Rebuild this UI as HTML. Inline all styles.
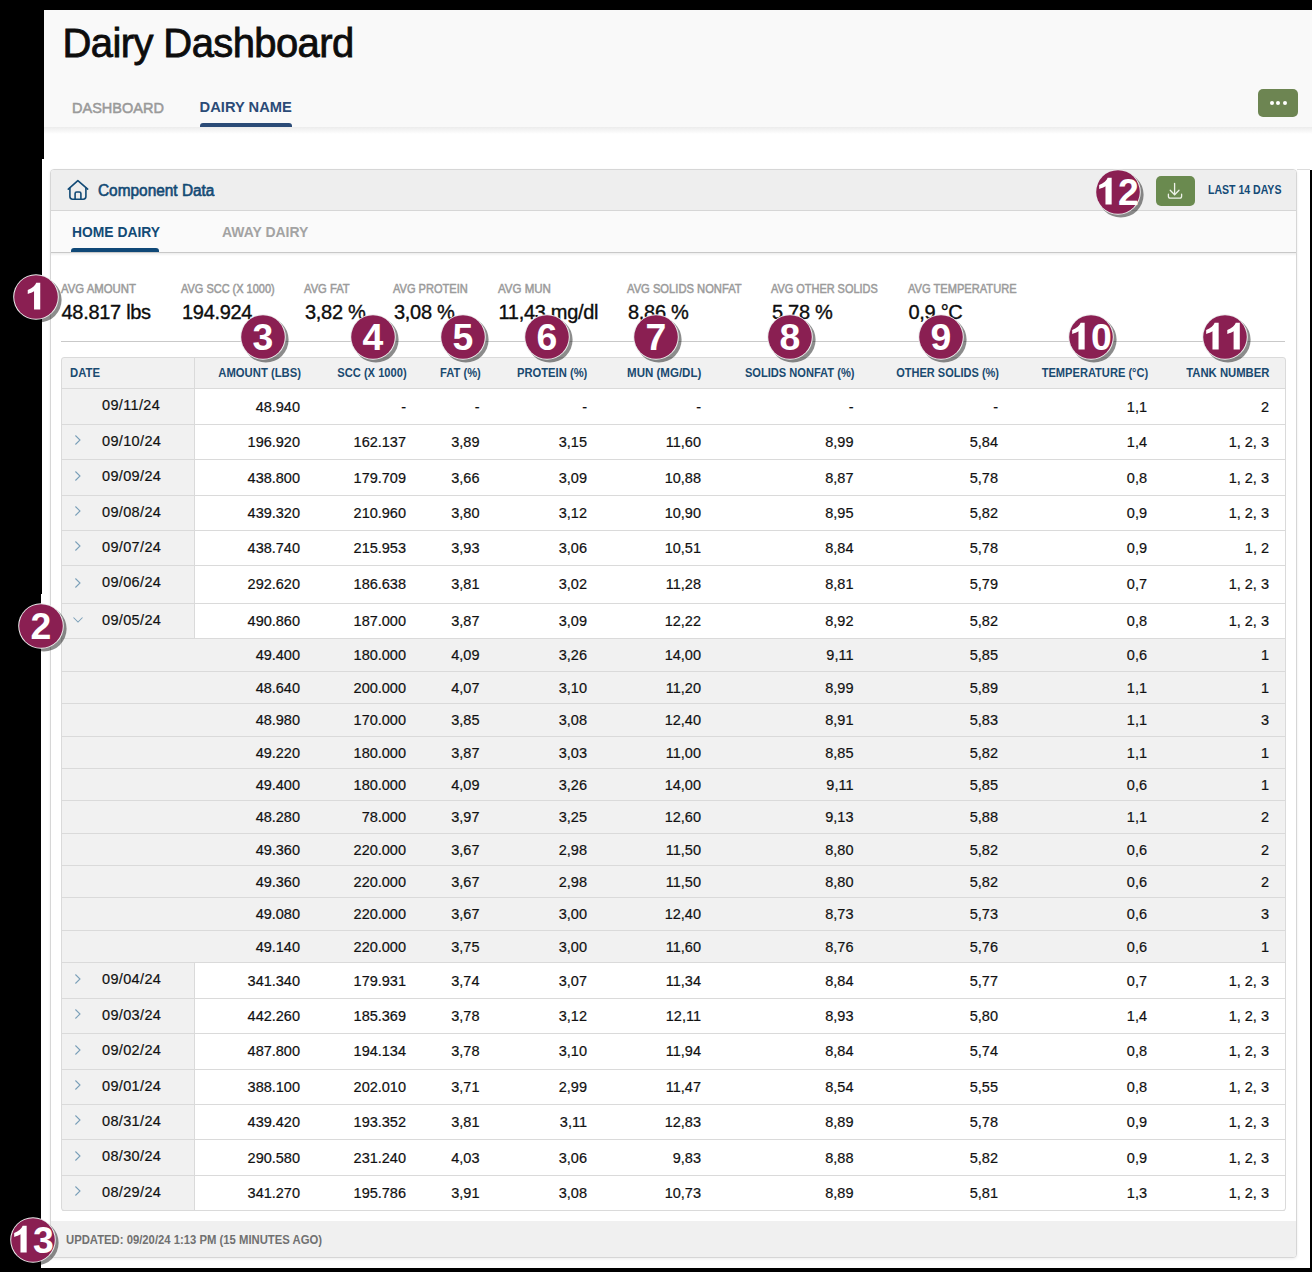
<!DOCTYPE html>
<html><head><meta charset="utf-8"><title>Dairy Dashboard</title>
<style>
html,body{margin:0;padding:0;}
body{width:1312px;height:1272px;background:#000;position:relative;overflow:hidden;font-family:"Liberation Sans", sans-serif;}
.r{position:absolute;}
.t{position:absolute;white-space:nowrap;font-family:"Liberation Sans", sans-serif;}
</style></head><body>
<div class="r" style="left:44px;top:10px;width:1268px;height:149px;background:#fff;"></div>
<div class="r" style="left:44px;top:10px;width:1268px;height:117px;background:#f9f9f9;"></div>
<div class="r" style="left:44px;top:127px;width:1268px;height:7px;background:linear-gradient(#ececec,#fff);"></div>
<div class="t" style="left:62.5px;top:22.94px;font-size:40px;line-height:40px;color:#0d0d0d;font-weight:400;letter-spacing:-0.6px;-webkit-text-stroke:0.8px #0d0d0d;">Dairy Dashboard</div>
<div class="t" style="left:72.3px;top:99.88px;font-size:15.5px;line-height:15.5px;color:#9a9a9a;font-weight:400;letter-spacing:0px;-webkit-text-stroke:0.55px #9a9a9a;transform:scaleX(0.937);transform-origin:left center;">DASHBOARD</div>
<div class="t" style="left:199.6px;top:100.36px;font-size:14.7px;line-height:14.7px;color:#2b4b77;font-weight:700;letter-spacing:0px;transform:scaleX(1.0);transform-origin:left center;">DAIRY NAME</div>
<div class="r" style="left:200px;top:123px;width:92px;height:4px;background:#2b4b77;border-radius:3px 3px 0 0;"></div>
<div class="r" style="left:1258px;top:89px;width:40px;height:28px;background:#6d8552;border-radius:5px;"></div>
<div class="r" style="left:1269.6px;top:101px;width:4px;height:4px;border-radius:50%;background:#fff;"></div>
<div class="r" style="left:1276.0px;top:101px;width:4px;height:4px;border-radius:50%;background:#fff;"></div>
<div class="r" style="left:1282.5px;top:101px;width:4px;height:4px;border-radius:50%;background:#fff;"></div>
<div class="r" style="left:42px;top:159px;width:1268px;height:1109px;background:#fff;"></div>
<div class="r" style="left:1310px;top:159px;width:2px;height:11px;background:#fff;"></div>
<div class="r" style="left:41px;top:594px;width:1px;height:674px;background:#fff;"></div>
<div class="r" style="left:1297px;top:169px;width:13px;height:1px;background:#dcdcdc;"></div>
<div class="r" style="left:50px;top:169px;width:1247px;height:1089px;background:#fff;border:1px solid #d6d6d6;border-radius:4px;box-sizing:border-box;box-shadow:0 1px 3px rgba(0,0,0,0.08);"></div>
<div class="r" style="left:51px;top:170px;width:1245px;height:40px;background:#eeeeee;border-radius:3px 3px 0 0;"></div>
<div class="r" style="left:51px;top:210px;width:1245px;height:1px;background:#d6d6d6;"></div>
<div class="r" style="left:51px;top:211px;width:1245px;height:41px;background:#fafafa;"></div>
<div class="r" style="left:51px;top:252px;width:1245px;height:1px;background:#c8c8c8;"></div>
<div class="r" style="left:51px;top:253px;width:1245px;height:3px;background:linear-gradient(rgba(0,0,0,0.07),rgba(0,0,0,0));"></div>
<svg class="r" style="left:62px;top:174px" width="32" height="32" viewBox="0 0 32 32" fill="none" stroke="#124a76" stroke-width="1.6" stroke-linejoin="round" stroke-linecap="round">
<path d="M6.3 15.1 L15.85 6.6 L25.7 15.1"/><path d="M7.9 14 V22.6 Q7.9 25.2 10.5 25.2 H21.3 Q23.9 25.2 23.9 22.6 V14"/><path d="M13.1 25.2 V19.6 Q13.1 18 14.7 18 H17.3 Q18.9 18 18.9 19.6 V25.2"/></svg>
<div class="t" style="left:97.8px;top:182.53px;font-size:15.8px;line-height:15.8px;color:#134a74;font-weight:400;letter-spacing:0px;-webkit-text-stroke:0.6px #134a74;transform:scaleX(0.975);transform-origin:left center;">Component Data</div>
<div class="r" style="left:1156px;top:176px;width:39px;height:30px;background:#6a8a4f;border-radius:5px;"></div>
<svg class="r" style="left:1166px;top:182px" width="18" height="18" viewBox="0 0 18 18" fill="none" stroke="#eef2ea" stroke-width="1.3" stroke-linecap="round" stroke-linejoin="round">
<path d="M8.6 1.4 V12.6"/><path d="M4.2 8.3 L8.6 12.7 L13 8.3"/><path d="M2.4 12.2 V14.3 Q2.4 16.2 4.3 16.2 H13.7 Q15.6 16.2 15.6 14.3 V12.2"/></svg>
<div class="t" style="left:1207.8px;top:183.67px;font-size:12.2px;line-height:12.2px;color:#134a76;font-weight:700;letter-spacing:0px;transform:scaleX(0.865);transform-origin:left center;">LAST 14 DAYS</div>
<div class="t" style="left:71.5px;top:223.86px;font-size:15.4px;line-height:15.4px;color:#124a76;font-weight:700;letter-spacing:0px;transform:scaleX(0.9);transform-origin:left center;">HOME DAIRY</div>
<div class="r" style="left:71px;top:248px;width:88px;height:4px;background:#0f4877;border-radius:3px 3px 0 0;"></div>
<div class="t" style="left:222.4px;top:223.86px;font-size:15.4px;line-height:15.4px;color:#a3a3a3;font-weight:700;letter-spacing:0px;transform:scaleX(0.907);transform-origin:left center;">AWAY DAIRY</div>
<div class="t" style="left:60.9px;top:282.77px;font-size:12.2px;line-height:12.2px;color:#9b9b9b;font-weight:400;letter-spacing:0px;-webkit-text-stroke:0.5px #9b9b9b;transform:scaleX(0.933);transform-origin:left center;">AVG AMOUNT</div>
<div class="t" style="left:61.5px;top:301.77px;font-size:20px;line-height:20px;color:#0d0d0d;font-weight:400;letter-spacing:-0.3px;-webkit-text-stroke:0.35px #0d0d0d;">48.817 lbs</div>
<div class="t" style="left:181.4px;top:282.77px;font-size:12.2px;line-height:12.2px;color:#9b9b9b;font-weight:400;letter-spacing:0px;-webkit-text-stroke:0.5px #9b9b9b;transform:scaleX(0.9);transform-origin:left center;">AVG SCC (X 1000)</div>
<div class="t" style="left:182px;top:301.77px;font-size:20px;line-height:20px;color:#0d0d0d;font-weight:400;letter-spacing:-0.3px;-webkit-text-stroke:0.35px #0d0d0d;">194.924</div>
<div class="t" style="left:304.4px;top:282.77px;font-size:12.2px;line-height:12.2px;color:#9b9b9b;font-weight:400;letter-spacing:0px;-webkit-text-stroke:0.5px #9b9b9b;transform:scaleX(0.92);transform-origin:left center;">AVG FAT</div>
<div class="t" style="left:305px;top:301.77px;font-size:20px;line-height:20px;color:#0d0d0d;font-weight:400;letter-spacing:-0.3px;-webkit-text-stroke:0.35px #0d0d0d;">3,82 %</div>
<div class="t" style="left:393.4px;top:282.77px;font-size:12.2px;line-height:12.2px;color:#9b9b9b;font-weight:400;letter-spacing:0px;-webkit-text-stroke:0.5px #9b9b9b;transform:scaleX(0.908);transform-origin:left center;">AVG PROTEIN</div>
<div class="t" style="left:394px;top:301.77px;font-size:20px;line-height:20px;color:#0d0d0d;font-weight:400;letter-spacing:-0.3px;-webkit-text-stroke:0.35px #0d0d0d;">3,08 %</div>
<div class="t" style="left:497.9px;top:282.77px;font-size:12.2px;line-height:12.2px;color:#9b9b9b;font-weight:400;letter-spacing:0px;-webkit-text-stroke:0.5px #9b9b9b;transform:scaleX(0.946);transform-origin:left center;">AVG MUN</div>
<div class="t" style="left:498.5px;top:301.77px;font-size:20px;line-height:20px;color:#0d0d0d;font-weight:400;letter-spacing:-0.3px;-webkit-text-stroke:0.35px #0d0d0d;">11,43 mg/dl</div>
<div class="t" style="left:627.4px;top:282.77px;font-size:12.2px;line-height:12.2px;color:#9b9b9b;font-weight:400;letter-spacing:0px;-webkit-text-stroke:0.5px #9b9b9b;transform:scaleX(0.918);transform-origin:left center;">AVG SOLIDS NONFAT</div>
<div class="t" style="left:628px;top:301.77px;font-size:20px;line-height:20px;color:#0d0d0d;font-weight:400;letter-spacing:-0.3px;-webkit-text-stroke:0.35px #0d0d0d;">8,86 %</div>
<div class="t" style="left:771.4px;top:282.77px;font-size:12.2px;line-height:12.2px;color:#9b9b9b;font-weight:400;letter-spacing:0px;-webkit-text-stroke:0.5px #9b9b9b;transform:scaleX(0.897);transform-origin:left center;">AVG OTHER SOLIDS</div>
<div class="t" style="left:772px;top:301.77px;font-size:20px;line-height:20px;color:#0d0d0d;font-weight:400;letter-spacing:-0.3px;-webkit-text-stroke:0.35px #0d0d0d;">5,78 %</div>
<div class="t" style="left:907.9px;top:282.77px;font-size:12.2px;line-height:12.2px;color:#9b9b9b;font-weight:400;letter-spacing:0px;-webkit-text-stroke:0.5px #9b9b9b;transform:scaleX(0.911);transform-origin:left center;">AVG TEMPERATURE</div>
<div class="t" style="left:908.5px;top:301.77px;font-size:20px;line-height:20px;color:#0d0d0d;font-weight:400;letter-spacing:-0.3px;-webkit-text-stroke:0.35px #0d0d0d;">0,9 °C</div>
<div class="r" style="left:61px;top:341px;width:1224px;height:1px;background:#c9c9c9;"></div>
<div style="position:absolute;left:0;top:0;width:1312px;height:1272px;clip-path:inset(357px 26px 61px 61px round 3px);">
<div class="r" style="left:62px;top:358px;width:1223px;height:30px;background:#f1f1f1;"></div>
<div class="r" style="left:62px;top:388px;width:1223px;height:1px;background:#dadada;"></div>
<div class="t" style="left:70px;top:367.14px;font-size:12px;line-height:12px;color:#1a4a70;font-weight:700;letter-spacing:0px;transform:scaleX(0.943);transform-origin:left center;">DATE</div>
<div class="t" style="right:1011.2px;top:367.14px;font-size:12px;line-height:12px;color:#1a4a70;font-weight:700;letter-spacing:0px;transform:scaleX(0.94);transform-origin:right center;">AMOUNT (LBS)</div>
<div class="t" style="right:905.2px;top:367.14px;font-size:12px;line-height:12px;color:#1a4a70;font-weight:700;letter-spacing:0px;transform:scaleX(0.93);transform-origin:right center;">SCC (X 1000)</div>
<div class="t" style="right:831.7px;top:367.14px;font-size:12px;line-height:12px;color:#1a4a70;font-weight:700;letter-spacing:0px;transform:scaleX(0.93);transform-origin:right center;">FAT (%)</div>
<div class="t" style="right:724.2px;top:367.14px;font-size:12px;line-height:12px;color:#1a4a70;font-weight:700;letter-spacing:0px;transform:scaleX(0.934);transform-origin:right center;">PROTEIN (%)</div>
<div class="t" style="right:610.2px;top:367.14px;font-size:12px;line-height:12px;color:#1a4a70;font-weight:700;letter-spacing:0px;transform:scaleX(0.96);transform-origin:right center;">MUN (MG/DL)</div>
<div class="t" style="right:457.70000000000005px;top:367.14px;font-size:12px;line-height:12px;color:#1a4a70;font-weight:700;letter-spacing:0px;transform:scaleX(0.925);transform-origin:right center;">SOLIDS NONFAT (%)</div>
<div class="t" style="right:313.20000000000005px;top:367.14px;font-size:12px;line-height:12px;color:#1a4a70;font-weight:700;letter-spacing:0px;transform:scaleX(0.917);transform-origin:right center;">OTHER SOLIDS (%)</div>
<div class="t" style="right:164.20000000000005px;top:367.14px;font-size:12px;line-height:12px;color:#1a4a70;font-weight:700;letter-spacing:0px;transform:scaleX(0.925);transform-origin:right center;">TEMPERATURE (°C)</div>
<div class="t" style="right:42.200000000000045px;top:367.14px;font-size:12px;line-height:12px;color:#1a4a70;font-weight:700;letter-spacing:0px;transform:scaleX(0.941);transform-origin:right center;">TANK NUMBER</div>
<div class="r" style="left:194px;top:358px;width:1px;height:30px;background:#dadada;"></div>
<div class="r" style="left:62px;top:389px;width:132px;height:35px;background:#f1f1f1;"></div>
<div class="r" style="left:194px;top:389px;width:1px;height:35px;background:#dadada;"></div>
<div class="r" style="left:62px;top:424px;width:1223px;height:1px;background:#dadada;"></div>
<div class="t" style="left:102px;top:397.73px;font-size:14.5px;line-height:14.5px;color:#111;font-weight:400;letter-spacing:0.35px;-webkit-text-stroke:0.2px #111;">09/11/24</div>
<div class="t" style="right:1012px;top:399.73px;font-size:14.5px;line-height:14.5px;color:#111;font-weight:400;letter-spacing:0px;-webkit-text-stroke:0.2px #111;">48.940</div>
<div class="t" style="right:906px;top:399.73px;font-size:14.5px;line-height:14.5px;color:#111;font-weight:400;letter-spacing:0px;-webkit-text-stroke:0.2px #111;">-</div>
<div class="t" style="right:832.5px;top:399.73px;font-size:14.5px;line-height:14.5px;color:#111;font-weight:400;letter-spacing:0px;-webkit-text-stroke:0.2px #111;">-</div>
<div class="t" style="right:725px;top:399.73px;font-size:14.5px;line-height:14.5px;color:#111;font-weight:400;letter-spacing:0px;-webkit-text-stroke:0.2px #111;">-</div>
<div class="t" style="right:611px;top:399.73px;font-size:14.5px;line-height:14.5px;color:#111;font-weight:400;letter-spacing:0px;-webkit-text-stroke:0.2px #111;">-</div>
<div class="t" style="right:458.5px;top:399.73px;font-size:14.5px;line-height:14.5px;color:#111;font-weight:400;letter-spacing:0px;-webkit-text-stroke:0.2px #111;">-</div>
<div class="t" style="right:314px;top:399.73px;font-size:14.5px;line-height:14.5px;color:#111;font-weight:400;letter-spacing:0px;-webkit-text-stroke:0.2px #111;">-</div>
<div class="t" style="right:165px;top:399.73px;font-size:14.5px;line-height:14.5px;color:#111;font-weight:400;letter-spacing:0px;-webkit-text-stroke:0.2px #111;">1,1</div>
<div class="t" style="right:43px;top:399.73px;font-size:14.5px;line-height:14.5px;color:#111;font-weight:400;letter-spacing:0px;-webkit-text-stroke:0.2px #111;">2</div>
<div class="r" style="left:62px;top:425px;width:132px;height:34px;background:#f1f1f1;"></div>
<div class="r" style="left:194px;top:425px;width:1px;height:34px;background:#dadada;"></div>
<div class="r" style="left:62px;top:459px;width:1223px;height:1px;background:#dadada;"></div>
<svg class="r" style="left:73px;top:433.2px" width="10" height="14" viewBox="0 0 10 14" fill="none" stroke="#7a9fb8" stroke-width="1.05"><path d="M2.4 2.5 L7 7 L2.4 11.5"/></svg>
<div class="t" style="left:102px;top:433.73px;font-size:14.5px;line-height:14.5px;color:#111;font-weight:400;letter-spacing:0.35px;-webkit-text-stroke:0.2px #111;">09/10/24</div>
<div class="t" style="right:1012px;top:434.73px;font-size:14.5px;line-height:14.5px;color:#111;font-weight:400;letter-spacing:0px;-webkit-text-stroke:0.2px #111;">196.920</div>
<div class="t" style="right:906px;top:434.73px;font-size:14.5px;line-height:14.5px;color:#111;font-weight:400;letter-spacing:0px;-webkit-text-stroke:0.2px #111;">162.137</div>
<div class="t" style="right:832.5px;top:434.73px;font-size:14.5px;line-height:14.5px;color:#111;font-weight:400;letter-spacing:0px;-webkit-text-stroke:0.2px #111;">3,89</div>
<div class="t" style="right:725px;top:434.73px;font-size:14.5px;line-height:14.5px;color:#111;font-weight:400;letter-spacing:0px;-webkit-text-stroke:0.2px #111;">3,15</div>
<div class="t" style="right:611px;top:434.73px;font-size:14.5px;line-height:14.5px;color:#111;font-weight:400;letter-spacing:0px;-webkit-text-stroke:0.2px #111;">11,60</div>
<div class="t" style="right:458.5px;top:434.73px;font-size:14.5px;line-height:14.5px;color:#111;font-weight:400;letter-spacing:0px;-webkit-text-stroke:0.2px #111;">8,99</div>
<div class="t" style="right:314px;top:434.73px;font-size:14.5px;line-height:14.5px;color:#111;font-weight:400;letter-spacing:0px;-webkit-text-stroke:0.2px #111;">5,84</div>
<div class="t" style="right:165px;top:434.73px;font-size:14.5px;line-height:14.5px;color:#111;font-weight:400;letter-spacing:0px;-webkit-text-stroke:0.2px #111;">1,4</div>
<div class="t" style="right:43px;top:434.73px;font-size:14.5px;line-height:14.5px;color:#111;font-weight:400;letter-spacing:0px;-webkit-text-stroke:0.2px #111;">1, 2, 3</div>
<div class="r" style="left:62px;top:460px;width:132px;height:35px;background:#f1f1f1;"></div>
<div class="r" style="left:194px;top:460px;width:1px;height:35px;background:#dadada;"></div>
<div class="r" style="left:62px;top:495px;width:1223px;height:1px;background:#dadada;"></div>
<svg class="r" style="left:73px;top:468.7px" width="10" height="14" viewBox="0 0 10 14" fill="none" stroke="#7a9fb8" stroke-width="1.05"><path d="M2.4 2.5 L7 7 L2.4 11.5"/></svg>
<div class="t" style="left:102px;top:468.73px;font-size:14.5px;line-height:14.5px;color:#111;font-weight:400;letter-spacing:0.35px;-webkit-text-stroke:0.2px #111;">09/09/24</div>
<div class="t" style="right:1012px;top:470.73px;font-size:14.5px;line-height:14.5px;color:#111;font-weight:400;letter-spacing:0px;-webkit-text-stroke:0.2px #111;">438.800</div>
<div class="t" style="right:906px;top:470.73px;font-size:14.5px;line-height:14.5px;color:#111;font-weight:400;letter-spacing:0px;-webkit-text-stroke:0.2px #111;">179.709</div>
<div class="t" style="right:832.5px;top:470.73px;font-size:14.5px;line-height:14.5px;color:#111;font-weight:400;letter-spacing:0px;-webkit-text-stroke:0.2px #111;">3,66</div>
<div class="t" style="right:725px;top:470.73px;font-size:14.5px;line-height:14.5px;color:#111;font-weight:400;letter-spacing:0px;-webkit-text-stroke:0.2px #111;">3,09</div>
<div class="t" style="right:611px;top:470.73px;font-size:14.5px;line-height:14.5px;color:#111;font-weight:400;letter-spacing:0px;-webkit-text-stroke:0.2px #111;">10,88</div>
<div class="t" style="right:458.5px;top:470.73px;font-size:14.5px;line-height:14.5px;color:#111;font-weight:400;letter-spacing:0px;-webkit-text-stroke:0.2px #111;">8,87</div>
<div class="t" style="right:314px;top:470.73px;font-size:14.5px;line-height:14.5px;color:#111;font-weight:400;letter-spacing:0px;-webkit-text-stroke:0.2px #111;">5,78</div>
<div class="t" style="right:165px;top:470.73px;font-size:14.5px;line-height:14.5px;color:#111;font-weight:400;letter-spacing:0px;-webkit-text-stroke:0.2px #111;">0,8</div>
<div class="t" style="right:43px;top:470.73px;font-size:14.5px;line-height:14.5px;color:#111;font-weight:400;letter-spacing:0px;-webkit-text-stroke:0.2px #111;">1, 2, 3</div>
<div class="r" style="left:62px;top:496px;width:132px;height:34px;background:#f1f1f1;"></div>
<div class="r" style="left:194px;top:496px;width:1px;height:34px;background:#dadada;"></div>
<div class="r" style="left:62px;top:530px;width:1223px;height:1px;background:#dadada;"></div>
<svg class="r" style="left:73px;top:504.2px" width="10" height="14" viewBox="0 0 10 14" fill="none" stroke="#7a9fb8" stroke-width="1.05"><path d="M2.4 2.5 L7 7 L2.4 11.5"/></svg>
<div class="t" style="left:102px;top:504.73px;font-size:14.5px;line-height:14.5px;color:#111;font-weight:400;letter-spacing:0.35px;-webkit-text-stroke:0.2px #111;">09/08/24</div>
<div class="t" style="right:1012px;top:505.73px;font-size:14.5px;line-height:14.5px;color:#111;font-weight:400;letter-spacing:0px;-webkit-text-stroke:0.2px #111;">439.320</div>
<div class="t" style="right:906px;top:505.73px;font-size:14.5px;line-height:14.5px;color:#111;font-weight:400;letter-spacing:0px;-webkit-text-stroke:0.2px #111;">210.960</div>
<div class="t" style="right:832.5px;top:505.73px;font-size:14.5px;line-height:14.5px;color:#111;font-weight:400;letter-spacing:0px;-webkit-text-stroke:0.2px #111;">3,80</div>
<div class="t" style="right:725px;top:505.73px;font-size:14.5px;line-height:14.5px;color:#111;font-weight:400;letter-spacing:0px;-webkit-text-stroke:0.2px #111;">3,12</div>
<div class="t" style="right:611px;top:505.73px;font-size:14.5px;line-height:14.5px;color:#111;font-weight:400;letter-spacing:0px;-webkit-text-stroke:0.2px #111;">10,90</div>
<div class="t" style="right:458.5px;top:505.73px;font-size:14.5px;line-height:14.5px;color:#111;font-weight:400;letter-spacing:0px;-webkit-text-stroke:0.2px #111;">8,95</div>
<div class="t" style="right:314px;top:505.73px;font-size:14.5px;line-height:14.5px;color:#111;font-weight:400;letter-spacing:0px;-webkit-text-stroke:0.2px #111;">5,82</div>
<div class="t" style="right:165px;top:505.73px;font-size:14.5px;line-height:14.5px;color:#111;font-weight:400;letter-spacing:0px;-webkit-text-stroke:0.2px #111;">0,9</div>
<div class="t" style="right:43px;top:505.73px;font-size:14.5px;line-height:14.5px;color:#111;font-weight:400;letter-spacing:0px;-webkit-text-stroke:0.2px #111;">1, 2, 3</div>
<div class="r" style="left:62px;top:531px;width:132px;height:34px;background:#f1f1f1;"></div>
<div class="r" style="left:194px;top:531px;width:1px;height:34px;background:#dadada;"></div>
<div class="r" style="left:62px;top:565px;width:1223px;height:1px;background:#dadada;"></div>
<svg class="r" style="left:73px;top:539.2px" width="10" height="14" viewBox="0 0 10 14" fill="none" stroke="#7a9fb8" stroke-width="1.05"><path d="M2.4 2.5 L7 7 L2.4 11.5"/></svg>
<div class="t" style="left:102px;top:539.73px;font-size:14.5px;line-height:14.5px;color:#111;font-weight:400;letter-spacing:0.35px;-webkit-text-stroke:0.2px #111;">09/07/24</div>
<div class="t" style="right:1012px;top:540.73px;font-size:14.5px;line-height:14.5px;color:#111;font-weight:400;letter-spacing:0px;-webkit-text-stroke:0.2px #111;">438.740</div>
<div class="t" style="right:906px;top:540.73px;font-size:14.5px;line-height:14.5px;color:#111;font-weight:400;letter-spacing:0px;-webkit-text-stroke:0.2px #111;">215.953</div>
<div class="t" style="right:832.5px;top:540.73px;font-size:14.5px;line-height:14.5px;color:#111;font-weight:400;letter-spacing:0px;-webkit-text-stroke:0.2px #111;">3,93</div>
<div class="t" style="right:725px;top:540.73px;font-size:14.5px;line-height:14.5px;color:#111;font-weight:400;letter-spacing:0px;-webkit-text-stroke:0.2px #111;">3,06</div>
<div class="t" style="right:611px;top:540.73px;font-size:14.5px;line-height:14.5px;color:#111;font-weight:400;letter-spacing:0px;-webkit-text-stroke:0.2px #111;">10,51</div>
<div class="t" style="right:458.5px;top:540.73px;font-size:14.5px;line-height:14.5px;color:#111;font-weight:400;letter-spacing:0px;-webkit-text-stroke:0.2px #111;">8,84</div>
<div class="t" style="right:314px;top:540.73px;font-size:14.5px;line-height:14.5px;color:#111;font-weight:400;letter-spacing:0px;-webkit-text-stroke:0.2px #111;">5,78</div>
<div class="t" style="right:165px;top:540.73px;font-size:14.5px;line-height:14.5px;color:#111;font-weight:400;letter-spacing:0px;-webkit-text-stroke:0.2px #111;">0,9</div>
<div class="t" style="right:43px;top:540.73px;font-size:14.5px;line-height:14.5px;color:#111;font-weight:400;letter-spacing:0px;-webkit-text-stroke:0.2px #111;">1, 2</div>
<div class="r" style="left:62px;top:566px;width:132px;height:37px;background:#f1f1f1;"></div>
<div class="r" style="left:194px;top:566px;width:1px;height:37px;background:#dadada;"></div>
<div class="r" style="left:62px;top:603px;width:1223px;height:1px;background:#dadada;"></div>
<svg class="r" style="left:73px;top:575.7px" width="10" height="14" viewBox="0 0 10 14" fill="none" stroke="#7a9fb8" stroke-width="1.05"><path d="M2.4 2.5 L7 7 L2.4 11.5"/></svg>
<div class="t" style="left:102px;top:574.73px;font-size:14.5px;line-height:14.5px;color:#111;font-weight:400;letter-spacing:0.35px;-webkit-text-stroke:0.2px #111;">09/06/24</div>
<div class="t" style="right:1012px;top:576.73px;font-size:14.5px;line-height:14.5px;color:#111;font-weight:400;letter-spacing:0px;-webkit-text-stroke:0.2px #111;">292.620</div>
<div class="t" style="right:906px;top:576.73px;font-size:14.5px;line-height:14.5px;color:#111;font-weight:400;letter-spacing:0px;-webkit-text-stroke:0.2px #111;">186.638</div>
<div class="t" style="right:832.5px;top:576.73px;font-size:14.5px;line-height:14.5px;color:#111;font-weight:400;letter-spacing:0px;-webkit-text-stroke:0.2px #111;">3,81</div>
<div class="t" style="right:725px;top:576.73px;font-size:14.5px;line-height:14.5px;color:#111;font-weight:400;letter-spacing:0px;-webkit-text-stroke:0.2px #111;">3,02</div>
<div class="t" style="right:611px;top:576.73px;font-size:14.5px;line-height:14.5px;color:#111;font-weight:400;letter-spacing:0px;-webkit-text-stroke:0.2px #111;">11,28</div>
<div class="t" style="right:458.5px;top:576.73px;font-size:14.5px;line-height:14.5px;color:#111;font-weight:400;letter-spacing:0px;-webkit-text-stroke:0.2px #111;">8,81</div>
<div class="t" style="right:314px;top:576.73px;font-size:14.5px;line-height:14.5px;color:#111;font-weight:400;letter-spacing:0px;-webkit-text-stroke:0.2px #111;">5,79</div>
<div class="t" style="right:165px;top:576.73px;font-size:14.5px;line-height:14.5px;color:#111;font-weight:400;letter-spacing:0px;-webkit-text-stroke:0.2px #111;">0,7</div>
<div class="t" style="right:43px;top:576.73px;font-size:14.5px;line-height:14.5px;color:#111;font-weight:400;letter-spacing:0px;-webkit-text-stroke:0.2px #111;">1, 2, 3</div>
<div class="r" style="left:62px;top:604px;width:132px;height:34px;background:#f1f1f1;"></div>
<div class="r" style="left:194px;top:604px;width:1px;height:34px;background:#dadada;"></div>
<div class="r" style="left:62px;top:638px;width:1223px;height:1px;background:#dadada;"></div>
<svg class="r" style="left:71px;top:615.0px" width="14" height="10" viewBox="0 0 14 10" fill="none" stroke="#7a9fb8" stroke-width="1.05"><path d="M2.5 2.5 L7 7 L11.5 2.5"/></svg>
<div class="t" style="left:102px;top:612.73px;font-size:14.5px;line-height:14.5px;color:#111;font-weight:400;letter-spacing:0.35px;-webkit-text-stroke:0.2px #111;">09/05/24</div>
<div class="t" style="right:1012px;top:613.73px;font-size:14.5px;line-height:14.5px;color:#111;font-weight:400;letter-spacing:0px;-webkit-text-stroke:0.2px #111;">490.860</div>
<div class="t" style="right:906px;top:613.73px;font-size:14.5px;line-height:14.5px;color:#111;font-weight:400;letter-spacing:0px;-webkit-text-stroke:0.2px #111;">187.000</div>
<div class="t" style="right:832.5px;top:613.73px;font-size:14.5px;line-height:14.5px;color:#111;font-weight:400;letter-spacing:0px;-webkit-text-stroke:0.2px #111;">3,87</div>
<div class="t" style="right:725px;top:613.73px;font-size:14.5px;line-height:14.5px;color:#111;font-weight:400;letter-spacing:0px;-webkit-text-stroke:0.2px #111;">3,09</div>
<div class="t" style="right:611px;top:613.73px;font-size:14.5px;line-height:14.5px;color:#111;font-weight:400;letter-spacing:0px;-webkit-text-stroke:0.2px #111;">12,22</div>
<div class="t" style="right:458.5px;top:613.73px;font-size:14.5px;line-height:14.5px;color:#111;font-weight:400;letter-spacing:0px;-webkit-text-stroke:0.2px #111;">8,92</div>
<div class="t" style="right:314px;top:613.73px;font-size:14.5px;line-height:14.5px;color:#111;font-weight:400;letter-spacing:0px;-webkit-text-stroke:0.2px #111;">5,82</div>
<div class="t" style="right:165px;top:613.73px;font-size:14.5px;line-height:14.5px;color:#111;font-weight:400;letter-spacing:0px;-webkit-text-stroke:0.2px #111;">0,8</div>
<div class="t" style="right:43px;top:613.73px;font-size:14.5px;line-height:14.5px;color:#111;font-weight:400;letter-spacing:0px;-webkit-text-stroke:0.2px #111;">1, 2, 3</div>
<div class="r" style="left:62px;top:639px;width:1223px;height:32px;background:#f1f1f1;"></div>
<div class="r" style="left:62px;top:671px;width:1223px;height:1px;background:#dadada;"></div>
<div class="t" style="right:1012px;top:648.23px;font-size:14.5px;line-height:14.5px;color:#111;font-weight:400;letter-spacing:0px;-webkit-text-stroke:0.2px #111;">49.400</div>
<div class="t" style="right:906px;top:648.23px;font-size:14.5px;line-height:14.5px;color:#111;font-weight:400;letter-spacing:0px;-webkit-text-stroke:0.2px #111;">180.000</div>
<div class="t" style="right:832.5px;top:648.23px;font-size:14.5px;line-height:14.5px;color:#111;font-weight:400;letter-spacing:0px;-webkit-text-stroke:0.2px #111;">4,09</div>
<div class="t" style="right:725px;top:648.23px;font-size:14.5px;line-height:14.5px;color:#111;font-weight:400;letter-spacing:0px;-webkit-text-stroke:0.2px #111;">3,26</div>
<div class="t" style="right:611px;top:648.23px;font-size:14.5px;line-height:14.5px;color:#111;font-weight:400;letter-spacing:0px;-webkit-text-stroke:0.2px #111;">14,00</div>
<div class="t" style="right:458.5px;top:648.23px;font-size:14.5px;line-height:14.5px;color:#111;font-weight:400;letter-spacing:0px;-webkit-text-stroke:0.2px #111;">9,11</div>
<div class="t" style="right:314px;top:648.23px;font-size:14.5px;line-height:14.5px;color:#111;font-weight:400;letter-spacing:0px;-webkit-text-stroke:0.2px #111;">5,85</div>
<div class="t" style="right:165px;top:648.23px;font-size:14.5px;line-height:14.5px;color:#111;font-weight:400;letter-spacing:0px;-webkit-text-stroke:0.2px #111;">0,6</div>
<div class="t" style="right:43px;top:648.23px;font-size:14.5px;line-height:14.5px;color:#111;font-weight:400;letter-spacing:0px;-webkit-text-stroke:0.2px #111;">1</div>
<div class="r" style="left:62px;top:672px;width:1223px;height:31px;background:#f1f1f1;"></div>
<div class="r" style="left:62px;top:703px;width:1223px;height:1px;background:#dadada;"></div>
<div class="t" style="right:1012px;top:680.73px;font-size:14.5px;line-height:14.5px;color:#111;font-weight:400;letter-spacing:0px;-webkit-text-stroke:0.2px #111;">48.640</div>
<div class="t" style="right:906px;top:680.73px;font-size:14.5px;line-height:14.5px;color:#111;font-weight:400;letter-spacing:0px;-webkit-text-stroke:0.2px #111;">200.000</div>
<div class="t" style="right:832.5px;top:680.73px;font-size:14.5px;line-height:14.5px;color:#111;font-weight:400;letter-spacing:0px;-webkit-text-stroke:0.2px #111;">4,07</div>
<div class="t" style="right:725px;top:680.73px;font-size:14.5px;line-height:14.5px;color:#111;font-weight:400;letter-spacing:0px;-webkit-text-stroke:0.2px #111;">3,10</div>
<div class="t" style="right:611px;top:680.73px;font-size:14.5px;line-height:14.5px;color:#111;font-weight:400;letter-spacing:0px;-webkit-text-stroke:0.2px #111;">11,20</div>
<div class="t" style="right:458.5px;top:680.73px;font-size:14.5px;line-height:14.5px;color:#111;font-weight:400;letter-spacing:0px;-webkit-text-stroke:0.2px #111;">8,99</div>
<div class="t" style="right:314px;top:680.73px;font-size:14.5px;line-height:14.5px;color:#111;font-weight:400;letter-spacing:0px;-webkit-text-stroke:0.2px #111;">5,89</div>
<div class="t" style="right:165px;top:680.73px;font-size:14.5px;line-height:14.5px;color:#111;font-weight:400;letter-spacing:0px;-webkit-text-stroke:0.2px #111;">1,1</div>
<div class="t" style="right:43px;top:680.73px;font-size:14.5px;line-height:14.5px;color:#111;font-weight:400;letter-spacing:0px;-webkit-text-stroke:0.2px #111;">1</div>
<div class="r" style="left:62px;top:704px;width:1223px;height:32px;background:#f1f1f1;"></div>
<div class="r" style="left:62px;top:736px;width:1223px;height:1px;background:#dadada;"></div>
<div class="t" style="right:1012px;top:713.23px;font-size:14.5px;line-height:14.5px;color:#111;font-weight:400;letter-spacing:0px;-webkit-text-stroke:0.2px #111;">48.980</div>
<div class="t" style="right:906px;top:713.23px;font-size:14.5px;line-height:14.5px;color:#111;font-weight:400;letter-spacing:0px;-webkit-text-stroke:0.2px #111;">170.000</div>
<div class="t" style="right:832.5px;top:713.23px;font-size:14.5px;line-height:14.5px;color:#111;font-weight:400;letter-spacing:0px;-webkit-text-stroke:0.2px #111;">3,85</div>
<div class="t" style="right:725px;top:713.23px;font-size:14.5px;line-height:14.5px;color:#111;font-weight:400;letter-spacing:0px;-webkit-text-stroke:0.2px #111;">3,08</div>
<div class="t" style="right:611px;top:713.23px;font-size:14.5px;line-height:14.5px;color:#111;font-weight:400;letter-spacing:0px;-webkit-text-stroke:0.2px #111;">12,40</div>
<div class="t" style="right:458.5px;top:713.23px;font-size:14.5px;line-height:14.5px;color:#111;font-weight:400;letter-spacing:0px;-webkit-text-stroke:0.2px #111;">8,91</div>
<div class="t" style="right:314px;top:713.23px;font-size:14.5px;line-height:14.5px;color:#111;font-weight:400;letter-spacing:0px;-webkit-text-stroke:0.2px #111;">5,83</div>
<div class="t" style="right:165px;top:713.23px;font-size:14.5px;line-height:14.5px;color:#111;font-weight:400;letter-spacing:0px;-webkit-text-stroke:0.2px #111;">1,1</div>
<div class="t" style="right:43px;top:713.23px;font-size:14.5px;line-height:14.5px;color:#111;font-weight:400;letter-spacing:0px;-webkit-text-stroke:0.2px #111;">3</div>
<div class="r" style="left:62px;top:737px;width:1223px;height:31px;background:#f1f1f1;"></div>
<div class="r" style="left:62px;top:768px;width:1223px;height:1px;background:#dadada;"></div>
<div class="t" style="right:1012px;top:745.73px;font-size:14.5px;line-height:14.5px;color:#111;font-weight:400;letter-spacing:0px;-webkit-text-stroke:0.2px #111;">49.220</div>
<div class="t" style="right:906px;top:745.73px;font-size:14.5px;line-height:14.5px;color:#111;font-weight:400;letter-spacing:0px;-webkit-text-stroke:0.2px #111;">180.000</div>
<div class="t" style="right:832.5px;top:745.73px;font-size:14.5px;line-height:14.5px;color:#111;font-weight:400;letter-spacing:0px;-webkit-text-stroke:0.2px #111;">3,87</div>
<div class="t" style="right:725px;top:745.73px;font-size:14.5px;line-height:14.5px;color:#111;font-weight:400;letter-spacing:0px;-webkit-text-stroke:0.2px #111;">3,03</div>
<div class="t" style="right:611px;top:745.73px;font-size:14.5px;line-height:14.5px;color:#111;font-weight:400;letter-spacing:0px;-webkit-text-stroke:0.2px #111;">11,00</div>
<div class="t" style="right:458.5px;top:745.73px;font-size:14.5px;line-height:14.5px;color:#111;font-weight:400;letter-spacing:0px;-webkit-text-stroke:0.2px #111;">8,85</div>
<div class="t" style="right:314px;top:745.73px;font-size:14.5px;line-height:14.5px;color:#111;font-weight:400;letter-spacing:0px;-webkit-text-stroke:0.2px #111;">5,82</div>
<div class="t" style="right:165px;top:745.73px;font-size:14.5px;line-height:14.5px;color:#111;font-weight:400;letter-spacing:0px;-webkit-text-stroke:0.2px #111;">1,1</div>
<div class="t" style="right:43px;top:745.73px;font-size:14.5px;line-height:14.5px;color:#111;font-weight:400;letter-spacing:0px;-webkit-text-stroke:0.2px #111;">1</div>
<div class="r" style="left:62px;top:769px;width:1223px;height:31px;background:#f1f1f1;"></div>
<div class="r" style="left:62px;top:800px;width:1223px;height:1px;background:#dadada;"></div>
<div class="t" style="right:1012px;top:777.73px;font-size:14.5px;line-height:14.5px;color:#111;font-weight:400;letter-spacing:0px;-webkit-text-stroke:0.2px #111;">49.400</div>
<div class="t" style="right:906px;top:777.73px;font-size:14.5px;line-height:14.5px;color:#111;font-weight:400;letter-spacing:0px;-webkit-text-stroke:0.2px #111;">180.000</div>
<div class="t" style="right:832.5px;top:777.73px;font-size:14.5px;line-height:14.5px;color:#111;font-weight:400;letter-spacing:0px;-webkit-text-stroke:0.2px #111;">4,09</div>
<div class="t" style="right:725px;top:777.73px;font-size:14.5px;line-height:14.5px;color:#111;font-weight:400;letter-spacing:0px;-webkit-text-stroke:0.2px #111;">3,26</div>
<div class="t" style="right:611px;top:777.73px;font-size:14.5px;line-height:14.5px;color:#111;font-weight:400;letter-spacing:0px;-webkit-text-stroke:0.2px #111;">14,00</div>
<div class="t" style="right:458.5px;top:777.73px;font-size:14.5px;line-height:14.5px;color:#111;font-weight:400;letter-spacing:0px;-webkit-text-stroke:0.2px #111;">9,11</div>
<div class="t" style="right:314px;top:777.73px;font-size:14.5px;line-height:14.5px;color:#111;font-weight:400;letter-spacing:0px;-webkit-text-stroke:0.2px #111;">5,85</div>
<div class="t" style="right:165px;top:777.73px;font-size:14.5px;line-height:14.5px;color:#111;font-weight:400;letter-spacing:0px;-webkit-text-stroke:0.2px #111;">0,6</div>
<div class="t" style="right:43px;top:777.73px;font-size:14.5px;line-height:14.5px;color:#111;font-weight:400;letter-spacing:0px;-webkit-text-stroke:0.2px #111;">1</div>
<div class="r" style="left:62px;top:801px;width:1223px;height:32px;background:#f1f1f1;"></div>
<div class="r" style="left:62px;top:833px;width:1223px;height:1px;background:#dadada;"></div>
<div class="t" style="right:1012px;top:810.23px;font-size:14.5px;line-height:14.5px;color:#111;font-weight:400;letter-spacing:0px;-webkit-text-stroke:0.2px #111;">48.280</div>
<div class="t" style="right:906px;top:810.23px;font-size:14.5px;line-height:14.5px;color:#111;font-weight:400;letter-spacing:0px;-webkit-text-stroke:0.2px #111;">78.000</div>
<div class="t" style="right:832.5px;top:810.23px;font-size:14.5px;line-height:14.5px;color:#111;font-weight:400;letter-spacing:0px;-webkit-text-stroke:0.2px #111;">3,97</div>
<div class="t" style="right:725px;top:810.23px;font-size:14.5px;line-height:14.5px;color:#111;font-weight:400;letter-spacing:0px;-webkit-text-stroke:0.2px #111;">3,25</div>
<div class="t" style="right:611px;top:810.23px;font-size:14.5px;line-height:14.5px;color:#111;font-weight:400;letter-spacing:0px;-webkit-text-stroke:0.2px #111;">12,60</div>
<div class="t" style="right:458.5px;top:810.23px;font-size:14.5px;line-height:14.5px;color:#111;font-weight:400;letter-spacing:0px;-webkit-text-stroke:0.2px #111;">9,13</div>
<div class="t" style="right:314px;top:810.23px;font-size:14.5px;line-height:14.5px;color:#111;font-weight:400;letter-spacing:0px;-webkit-text-stroke:0.2px #111;">5,88</div>
<div class="t" style="right:165px;top:810.23px;font-size:14.5px;line-height:14.5px;color:#111;font-weight:400;letter-spacing:0px;-webkit-text-stroke:0.2px #111;">1,1</div>
<div class="t" style="right:43px;top:810.23px;font-size:14.5px;line-height:14.5px;color:#111;font-weight:400;letter-spacing:0px;-webkit-text-stroke:0.2px #111;">2</div>
<div class="r" style="left:62px;top:834px;width:1223px;height:31px;background:#f1f1f1;"></div>
<div class="r" style="left:62px;top:865px;width:1223px;height:1px;background:#dadada;"></div>
<div class="t" style="right:1012px;top:842.73px;font-size:14.5px;line-height:14.5px;color:#111;font-weight:400;letter-spacing:0px;-webkit-text-stroke:0.2px #111;">49.360</div>
<div class="t" style="right:906px;top:842.73px;font-size:14.5px;line-height:14.5px;color:#111;font-weight:400;letter-spacing:0px;-webkit-text-stroke:0.2px #111;">220.000</div>
<div class="t" style="right:832.5px;top:842.73px;font-size:14.5px;line-height:14.5px;color:#111;font-weight:400;letter-spacing:0px;-webkit-text-stroke:0.2px #111;">3,67</div>
<div class="t" style="right:725px;top:842.73px;font-size:14.5px;line-height:14.5px;color:#111;font-weight:400;letter-spacing:0px;-webkit-text-stroke:0.2px #111;">2,98</div>
<div class="t" style="right:611px;top:842.73px;font-size:14.5px;line-height:14.5px;color:#111;font-weight:400;letter-spacing:0px;-webkit-text-stroke:0.2px #111;">11,50</div>
<div class="t" style="right:458.5px;top:842.73px;font-size:14.5px;line-height:14.5px;color:#111;font-weight:400;letter-spacing:0px;-webkit-text-stroke:0.2px #111;">8,80</div>
<div class="t" style="right:314px;top:842.73px;font-size:14.5px;line-height:14.5px;color:#111;font-weight:400;letter-spacing:0px;-webkit-text-stroke:0.2px #111;">5,82</div>
<div class="t" style="right:165px;top:842.73px;font-size:14.5px;line-height:14.5px;color:#111;font-weight:400;letter-spacing:0px;-webkit-text-stroke:0.2px #111;">0,6</div>
<div class="t" style="right:43px;top:842.73px;font-size:14.5px;line-height:14.5px;color:#111;font-weight:400;letter-spacing:0px;-webkit-text-stroke:0.2px #111;">2</div>
<div class="r" style="left:62px;top:866px;width:1223px;height:31px;background:#f1f1f1;"></div>
<div class="r" style="left:62px;top:897px;width:1223px;height:1px;background:#dadada;"></div>
<div class="t" style="right:1012px;top:874.73px;font-size:14.5px;line-height:14.5px;color:#111;font-weight:400;letter-spacing:0px;-webkit-text-stroke:0.2px #111;">49.360</div>
<div class="t" style="right:906px;top:874.73px;font-size:14.5px;line-height:14.5px;color:#111;font-weight:400;letter-spacing:0px;-webkit-text-stroke:0.2px #111;">220.000</div>
<div class="t" style="right:832.5px;top:874.73px;font-size:14.5px;line-height:14.5px;color:#111;font-weight:400;letter-spacing:0px;-webkit-text-stroke:0.2px #111;">3,67</div>
<div class="t" style="right:725px;top:874.73px;font-size:14.5px;line-height:14.5px;color:#111;font-weight:400;letter-spacing:0px;-webkit-text-stroke:0.2px #111;">2,98</div>
<div class="t" style="right:611px;top:874.73px;font-size:14.5px;line-height:14.5px;color:#111;font-weight:400;letter-spacing:0px;-webkit-text-stroke:0.2px #111;">11,50</div>
<div class="t" style="right:458.5px;top:874.73px;font-size:14.5px;line-height:14.5px;color:#111;font-weight:400;letter-spacing:0px;-webkit-text-stroke:0.2px #111;">8,80</div>
<div class="t" style="right:314px;top:874.73px;font-size:14.5px;line-height:14.5px;color:#111;font-weight:400;letter-spacing:0px;-webkit-text-stroke:0.2px #111;">5,82</div>
<div class="t" style="right:165px;top:874.73px;font-size:14.5px;line-height:14.5px;color:#111;font-weight:400;letter-spacing:0px;-webkit-text-stroke:0.2px #111;">0,6</div>
<div class="t" style="right:43px;top:874.73px;font-size:14.5px;line-height:14.5px;color:#111;font-weight:400;letter-spacing:0px;-webkit-text-stroke:0.2px #111;">2</div>
<div class="r" style="left:62px;top:898px;width:1223px;height:32px;background:#f1f1f1;"></div>
<div class="r" style="left:62px;top:930px;width:1223px;height:1px;background:#dadada;"></div>
<div class="t" style="right:1012px;top:907.23px;font-size:14.5px;line-height:14.5px;color:#111;font-weight:400;letter-spacing:0px;-webkit-text-stroke:0.2px #111;">49.080</div>
<div class="t" style="right:906px;top:907.23px;font-size:14.5px;line-height:14.5px;color:#111;font-weight:400;letter-spacing:0px;-webkit-text-stroke:0.2px #111;">220.000</div>
<div class="t" style="right:832.5px;top:907.23px;font-size:14.5px;line-height:14.5px;color:#111;font-weight:400;letter-spacing:0px;-webkit-text-stroke:0.2px #111;">3,67</div>
<div class="t" style="right:725px;top:907.23px;font-size:14.5px;line-height:14.5px;color:#111;font-weight:400;letter-spacing:0px;-webkit-text-stroke:0.2px #111;">3,00</div>
<div class="t" style="right:611px;top:907.23px;font-size:14.5px;line-height:14.5px;color:#111;font-weight:400;letter-spacing:0px;-webkit-text-stroke:0.2px #111;">12,40</div>
<div class="t" style="right:458.5px;top:907.23px;font-size:14.5px;line-height:14.5px;color:#111;font-weight:400;letter-spacing:0px;-webkit-text-stroke:0.2px #111;">8,73</div>
<div class="t" style="right:314px;top:907.23px;font-size:14.5px;line-height:14.5px;color:#111;font-weight:400;letter-spacing:0px;-webkit-text-stroke:0.2px #111;">5,73</div>
<div class="t" style="right:165px;top:907.23px;font-size:14.5px;line-height:14.5px;color:#111;font-weight:400;letter-spacing:0px;-webkit-text-stroke:0.2px #111;">0,6</div>
<div class="t" style="right:43px;top:907.23px;font-size:14.5px;line-height:14.5px;color:#111;font-weight:400;letter-spacing:0px;-webkit-text-stroke:0.2px #111;">3</div>
<div class="r" style="left:62px;top:931px;width:1223px;height:31px;background:#f1f1f1;"></div>
<div class="r" style="left:62px;top:962px;width:1223px;height:1px;background:#dadada;"></div>
<div class="t" style="right:1012px;top:939.73px;font-size:14.5px;line-height:14.5px;color:#111;font-weight:400;letter-spacing:0px;-webkit-text-stroke:0.2px #111;">49.140</div>
<div class="t" style="right:906px;top:939.73px;font-size:14.5px;line-height:14.5px;color:#111;font-weight:400;letter-spacing:0px;-webkit-text-stroke:0.2px #111;">220.000</div>
<div class="t" style="right:832.5px;top:939.73px;font-size:14.5px;line-height:14.5px;color:#111;font-weight:400;letter-spacing:0px;-webkit-text-stroke:0.2px #111;">3,75</div>
<div class="t" style="right:725px;top:939.73px;font-size:14.5px;line-height:14.5px;color:#111;font-weight:400;letter-spacing:0px;-webkit-text-stroke:0.2px #111;">3,00</div>
<div class="t" style="right:611px;top:939.73px;font-size:14.5px;line-height:14.5px;color:#111;font-weight:400;letter-spacing:0px;-webkit-text-stroke:0.2px #111;">11,60</div>
<div class="t" style="right:458.5px;top:939.73px;font-size:14.5px;line-height:14.5px;color:#111;font-weight:400;letter-spacing:0px;-webkit-text-stroke:0.2px #111;">8,76</div>
<div class="t" style="right:314px;top:939.73px;font-size:14.5px;line-height:14.5px;color:#111;font-weight:400;letter-spacing:0px;-webkit-text-stroke:0.2px #111;">5,76</div>
<div class="t" style="right:165px;top:939.73px;font-size:14.5px;line-height:14.5px;color:#111;font-weight:400;letter-spacing:0px;-webkit-text-stroke:0.2px #111;">0,6</div>
<div class="t" style="right:43px;top:939.73px;font-size:14.5px;line-height:14.5px;color:#111;font-weight:400;letter-spacing:0px;-webkit-text-stroke:0.2px #111;">1</div>
<div class="r" style="left:62px;top:963px;width:132px;height:35px;background:#f1f1f1;"></div>
<div class="r" style="left:194px;top:963px;width:1px;height:35px;background:#dadada;"></div>
<div class="r" style="left:62px;top:998px;width:1223px;height:1px;background:#dadada;"></div>
<svg class="r" style="left:73px;top:971.7px" width="10" height="14" viewBox="0 0 10 14" fill="none" stroke="#7a9fb8" stroke-width="1.05"><path d="M2.4 2.5 L7 7 L2.4 11.5"/></svg>
<div class="t" style="left:102px;top:971.73px;font-size:14.5px;line-height:14.5px;color:#111;font-weight:400;letter-spacing:0.35px;-webkit-text-stroke:0.2px #111;">09/04/24</div>
<div class="t" style="right:1012px;top:973.73px;font-size:14.5px;line-height:14.5px;color:#111;font-weight:400;letter-spacing:0px;-webkit-text-stroke:0.2px #111;">341.340</div>
<div class="t" style="right:906px;top:973.73px;font-size:14.5px;line-height:14.5px;color:#111;font-weight:400;letter-spacing:0px;-webkit-text-stroke:0.2px #111;">179.931</div>
<div class="t" style="right:832.5px;top:973.73px;font-size:14.5px;line-height:14.5px;color:#111;font-weight:400;letter-spacing:0px;-webkit-text-stroke:0.2px #111;">3,74</div>
<div class="t" style="right:725px;top:973.73px;font-size:14.5px;line-height:14.5px;color:#111;font-weight:400;letter-spacing:0px;-webkit-text-stroke:0.2px #111;">3,07</div>
<div class="t" style="right:611px;top:973.73px;font-size:14.5px;line-height:14.5px;color:#111;font-weight:400;letter-spacing:0px;-webkit-text-stroke:0.2px #111;">11,34</div>
<div class="t" style="right:458.5px;top:973.73px;font-size:14.5px;line-height:14.5px;color:#111;font-weight:400;letter-spacing:0px;-webkit-text-stroke:0.2px #111;">8,84</div>
<div class="t" style="right:314px;top:973.73px;font-size:14.5px;line-height:14.5px;color:#111;font-weight:400;letter-spacing:0px;-webkit-text-stroke:0.2px #111;">5,77</div>
<div class="t" style="right:165px;top:973.73px;font-size:14.5px;line-height:14.5px;color:#111;font-weight:400;letter-spacing:0px;-webkit-text-stroke:0.2px #111;">0,7</div>
<div class="t" style="right:43px;top:973.73px;font-size:14.5px;line-height:14.5px;color:#111;font-weight:400;letter-spacing:0px;-webkit-text-stroke:0.2px #111;">1, 2, 3</div>
<div class="r" style="left:62px;top:999px;width:132px;height:34px;background:#f1f1f1;"></div>
<div class="r" style="left:194px;top:999px;width:1px;height:34px;background:#dadada;"></div>
<div class="r" style="left:62px;top:1033px;width:1223px;height:1px;background:#dadada;"></div>
<svg class="r" style="left:73px;top:1007.2px" width="10" height="14" viewBox="0 0 10 14" fill="none" stroke="#7a9fb8" stroke-width="1.05"><path d="M2.4 2.5 L7 7 L2.4 11.5"/></svg>
<div class="t" style="left:102px;top:1007.73px;font-size:14.5px;line-height:14.5px;color:#111;font-weight:400;letter-spacing:0.35px;-webkit-text-stroke:0.2px #111;">09/03/24</div>
<div class="t" style="right:1012px;top:1008.73px;font-size:14.5px;line-height:14.5px;color:#111;font-weight:400;letter-spacing:0px;-webkit-text-stroke:0.2px #111;">442.260</div>
<div class="t" style="right:906px;top:1008.73px;font-size:14.5px;line-height:14.5px;color:#111;font-weight:400;letter-spacing:0px;-webkit-text-stroke:0.2px #111;">185.369</div>
<div class="t" style="right:832.5px;top:1008.73px;font-size:14.5px;line-height:14.5px;color:#111;font-weight:400;letter-spacing:0px;-webkit-text-stroke:0.2px #111;">3,78</div>
<div class="t" style="right:725px;top:1008.73px;font-size:14.5px;line-height:14.5px;color:#111;font-weight:400;letter-spacing:0px;-webkit-text-stroke:0.2px #111;">3,12</div>
<div class="t" style="right:611px;top:1008.73px;font-size:14.5px;line-height:14.5px;color:#111;font-weight:400;letter-spacing:0px;-webkit-text-stroke:0.2px #111;">12,11</div>
<div class="t" style="right:458.5px;top:1008.73px;font-size:14.5px;line-height:14.5px;color:#111;font-weight:400;letter-spacing:0px;-webkit-text-stroke:0.2px #111;">8,93</div>
<div class="t" style="right:314px;top:1008.73px;font-size:14.5px;line-height:14.5px;color:#111;font-weight:400;letter-spacing:0px;-webkit-text-stroke:0.2px #111;">5,80</div>
<div class="t" style="right:165px;top:1008.73px;font-size:14.5px;line-height:14.5px;color:#111;font-weight:400;letter-spacing:0px;-webkit-text-stroke:0.2px #111;">1,4</div>
<div class="t" style="right:43px;top:1008.73px;font-size:14.5px;line-height:14.5px;color:#111;font-weight:400;letter-spacing:0px;-webkit-text-stroke:0.2px #111;">1, 2, 3</div>
<div class="r" style="left:62px;top:1034px;width:132px;height:35px;background:#f1f1f1;"></div>
<div class="r" style="left:194px;top:1034px;width:1px;height:35px;background:#dadada;"></div>
<div class="r" style="left:62px;top:1069px;width:1223px;height:1px;background:#dadada;"></div>
<svg class="r" style="left:73px;top:1042.7px" width="10" height="14" viewBox="0 0 10 14" fill="none" stroke="#7a9fb8" stroke-width="1.05"><path d="M2.4 2.5 L7 7 L2.4 11.5"/></svg>
<div class="t" style="left:102px;top:1042.73px;font-size:14.5px;line-height:14.5px;color:#111;font-weight:400;letter-spacing:0.35px;-webkit-text-stroke:0.2px #111;">09/02/24</div>
<div class="t" style="right:1012px;top:1043.73px;font-size:14.5px;line-height:14.5px;color:#111;font-weight:400;letter-spacing:0px;-webkit-text-stroke:0.2px #111;">487.800</div>
<div class="t" style="right:906px;top:1043.73px;font-size:14.5px;line-height:14.5px;color:#111;font-weight:400;letter-spacing:0px;-webkit-text-stroke:0.2px #111;">194.134</div>
<div class="t" style="right:832.5px;top:1043.73px;font-size:14.5px;line-height:14.5px;color:#111;font-weight:400;letter-spacing:0px;-webkit-text-stroke:0.2px #111;">3,78</div>
<div class="t" style="right:725px;top:1043.73px;font-size:14.5px;line-height:14.5px;color:#111;font-weight:400;letter-spacing:0px;-webkit-text-stroke:0.2px #111;">3,10</div>
<div class="t" style="right:611px;top:1043.73px;font-size:14.5px;line-height:14.5px;color:#111;font-weight:400;letter-spacing:0px;-webkit-text-stroke:0.2px #111;">11,94</div>
<div class="t" style="right:458.5px;top:1043.73px;font-size:14.5px;line-height:14.5px;color:#111;font-weight:400;letter-spacing:0px;-webkit-text-stroke:0.2px #111;">8,84</div>
<div class="t" style="right:314px;top:1043.73px;font-size:14.5px;line-height:14.5px;color:#111;font-weight:400;letter-spacing:0px;-webkit-text-stroke:0.2px #111;">5,74</div>
<div class="t" style="right:165px;top:1043.73px;font-size:14.5px;line-height:14.5px;color:#111;font-weight:400;letter-spacing:0px;-webkit-text-stroke:0.2px #111;">0,8</div>
<div class="t" style="right:43px;top:1043.73px;font-size:14.5px;line-height:14.5px;color:#111;font-weight:400;letter-spacing:0px;-webkit-text-stroke:0.2px #111;">1, 2, 3</div>
<div class="r" style="left:62px;top:1070px;width:132px;height:34px;background:#f1f1f1;"></div>
<div class="r" style="left:194px;top:1070px;width:1px;height:34px;background:#dadada;"></div>
<div class="r" style="left:62px;top:1104px;width:1223px;height:1px;background:#dadada;"></div>
<svg class="r" style="left:73px;top:1078.2px" width="10" height="14" viewBox="0 0 10 14" fill="none" stroke="#7a9fb8" stroke-width="1.05"><path d="M2.4 2.5 L7 7 L2.4 11.5"/></svg>
<div class="t" style="left:102px;top:1078.73px;font-size:14.5px;line-height:14.5px;color:#111;font-weight:400;letter-spacing:0.35px;-webkit-text-stroke:0.2px #111;">09/01/24</div>
<div class="t" style="right:1012px;top:1079.73px;font-size:14.5px;line-height:14.5px;color:#111;font-weight:400;letter-spacing:0px;-webkit-text-stroke:0.2px #111;">388.100</div>
<div class="t" style="right:906px;top:1079.73px;font-size:14.5px;line-height:14.5px;color:#111;font-weight:400;letter-spacing:0px;-webkit-text-stroke:0.2px #111;">202.010</div>
<div class="t" style="right:832.5px;top:1079.73px;font-size:14.5px;line-height:14.5px;color:#111;font-weight:400;letter-spacing:0px;-webkit-text-stroke:0.2px #111;">3,71</div>
<div class="t" style="right:725px;top:1079.73px;font-size:14.5px;line-height:14.5px;color:#111;font-weight:400;letter-spacing:0px;-webkit-text-stroke:0.2px #111;">2,99</div>
<div class="t" style="right:611px;top:1079.73px;font-size:14.5px;line-height:14.5px;color:#111;font-weight:400;letter-spacing:0px;-webkit-text-stroke:0.2px #111;">11,47</div>
<div class="t" style="right:458.5px;top:1079.73px;font-size:14.5px;line-height:14.5px;color:#111;font-weight:400;letter-spacing:0px;-webkit-text-stroke:0.2px #111;">8,54</div>
<div class="t" style="right:314px;top:1079.73px;font-size:14.5px;line-height:14.5px;color:#111;font-weight:400;letter-spacing:0px;-webkit-text-stroke:0.2px #111;">5,55</div>
<div class="t" style="right:165px;top:1079.73px;font-size:14.5px;line-height:14.5px;color:#111;font-weight:400;letter-spacing:0px;-webkit-text-stroke:0.2px #111;">0,8</div>
<div class="t" style="right:43px;top:1079.73px;font-size:14.5px;line-height:14.5px;color:#111;font-weight:400;letter-spacing:0px;-webkit-text-stroke:0.2px #111;">1, 2, 3</div>
<div class="r" style="left:62px;top:1105px;width:132px;height:34px;background:#f1f1f1;"></div>
<div class="r" style="left:194px;top:1105px;width:1px;height:34px;background:#dadada;"></div>
<div class="r" style="left:62px;top:1139px;width:1223px;height:1px;background:#dadada;"></div>
<svg class="r" style="left:73px;top:1113.2px" width="10" height="14" viewBox="0 0 10 14" fill="none" stroke="#7a9fb8" stroke-width="1.05"><path d="M2.4 2.5 L7 7 L2.4 11.5"/></svg>
<div class="t" style="left:102px;top:1113.73px;font-size:14.5px;line-height:14.5px;color:#111;font-weight:400;letter-spacing:0.35px;-webkit-text-stroke:0.2px #111;">08/31/24</div>
<div class="t" style="right:1012px;top:1114.73px;font-size:14.5px;line-height:14.5px;color:#111;font-weight:400;letter-spacing:0px;-webkit-text-stroke:0.2px #111;">439.420</div>
<div class="t" style="right:906px;top:1114.73px;font-size:14.5px;line-height:14.5px;color:#111;font-weight:400;letter-spacing:0px;-webkit-text-stroke:0.2px #111;">193.352</div>
<div class="t" style="right:832.5px;top:1114.73px;font-size:14.5px;line-height:14.5px;color:#111;font-weight:400;letter-spacing:0px;-webkit-text-stroke:0.2px #111;">3,81</div>
<div class="t" style="right:725px;top:1114.73px;font-size:14.5px;line-height:14.5px;color:#111;font-weight:400;letter-spacing:0px;-webkit-text-stroke:0.2px #111;">3,11</div>
<div class="t" style="right:611px;top:1114.73px;font-size:14.5px;line-height:14.5px;color:#111;font-weight:400;letter-spacing:0px;-webkit-text-stroke:0.2px #111;">12,83</div>
<div class="t" style="right:458.5px;top:1114.73px;font-size:14.5px;line-height:14.5px;color:#111;font-weight:400;letter-spacing:0px;-webkit-text-stroke:0.2px #111;">8,89</div>
<div class="t" style="right:314px;top:1114.73px;font-size:14.5px;line-height:14.5px;color:#111;font-weight:400;letter-spacing:0px;-webkit-text-stroke:0.2px #111;">5,78</div>
<div class="t" style="right:165px;top:1114.73px;font-size:14.5px;line-height:14.5px;color:#111;font-weight:400;letter-spacing:0px;-webkit-text-stroke:0.2px #111;">0,9</div>
<div class="t" style="right:43px;top:1114.73px;font-size:14.5px;line-height:14.5px;color:#111;font-weight:400;letter-spacing:0px;-webkit-text-stroke:0.2px #111;">1, 2, 3</div>
<div class="r" style="left:62px;top:1140px;width:132px;height:35px;background:#f1f1f1;"></div>
<div class="r" style="left:194px;top:1140px;width:1px;height:35px;background:#dadada;"></div>
<div class="r" style="left:62px;top:1175px;width:1223px;height:1px;background:#dadada;"></div>
<svg class="r" style="left:73px;top:1148.7px" width="10" height="14" viewBox="0 0 10 14" fill="none" stroke="#7a9fb8" stroke-width="1.05"><path d="M2.4 2.5 L7 7 L2.4 11.5"/></svg>
<div class="t" style="left:102px;top:1148.73px;font-size:14.5px;line-height:14.5px;color:#111;font-weight:400;letter-spacing:0.35px;-webkit-text-stroke:0.2px #111;">08/30/24</div>
<div class="t" style="right:1012px;top:1150.73px;font-size:14.5px;line-height:14.5px;color:#111;font-weight:400;letter-spacing:0px;-webkit-text-stroke:0.2px #111;">290.580</div>
<div class="t" style="right:906px;top:1150.73px;font-size:14.5px;line-height:14.5px;color:#111;font-weight:400;letter-spacing:0px;-webkit-text-stroke:0.2px #111;">231.240</div>
<div class="t" style="right:832.5px;top:1150.73px;font-size:14.5px;line-height:14.5px;color:#111;font-weight:400;letter-spacing:0px;-webkit-text-stroke:0.2px #111;">4,03</div>
<div class="t" style="right:725px;top:1150.73px;font-size:14.5px;line-height:14.5px;color:#111;font-weight:400;letter-spacing:0px;-webkit-text-stroke:0.2px #111;">3,06</div>
<div class="t" style="right:611px;top:1150.73px;font-size:14.5px;line-height:14.5px;color:#111;font-weight:400;letter-spacing:0px;-webkit-text-stroke:0.2px #111;">9,83</div>
<div class="t" style="right:458.5px;top:1150.73px;font-size:14.5px;line-height:14.5px;color:#111;font-weight:400;letter-spacing:0px;-webkit-text-stroke:0.2px #111;">8,88</div>
<div class="t" style="right:314px;top:1150.73px;font-size:14.5px;line-height:14.5px;color:#111;font-weight:400;letter-spacing:0px;-webkit-text-stroke:0.2px #111;">5,82</div>
<div class="t" style="right:165px;top:1150.73px;font-size:14.5px;line-height:14.5px;color:#111;font-weight:400;letter-spacing:0px;-webkit-text-stroke:0.2px #111;">0,9</div>
<div class="t" style="right:43px;top:1150.73px;font-size:14.5px;line-height:14.5px;color:#111;font-weight:400;letter-spacing:0px;-webkit-text-stroke:0.2px #111;">1, 2, 3</div>
<div class="r" style="left:62px;top:1176px;width:132px;height:34px;background:#f1f1f1;"></div>
<div class="r" style="left:194px;top:1176px;width:1px;height:34px;background:#dadada;"></div>
<div class="r" style="left:62px;top:1210px;width:1223px;height:1px;background:#dadada;"></div>
<svg class="r" style="left:73px;top:1184.2px" width="10" height="14" viewBox="0 0 10 14" fill="none" stroke="#7a9fb8" stroke-width="1.05"><path d="M2.4 2.5 L7 7 L2.4 11.5"/></svg>
<div class="t" style="left:102px;top:1184.73px;font-size:14.5px;line-height:14.5px;color:#111;font-weight:400;letter-spacing:0.35px;-webkit-text-stroke:0.2px #111;">08/29/24</div>
<div class="t" style="right:1012px;top:1185.73px;font-size:14.5px;line-height:14.5px;color:#111;font-weight:400;letter-spacing:0px;-webkit-text-stroke:0.2px #111;">341.270</div>
<div class="t" style="right:906px;top:1185.73px;font-size:14.5px;line-height:14.5px;color:#111;font-weight:400;letter-spacing:0px;-webkit-text-stroke:0.2px #111;">195.786</div>
<div class="t" style="right:832.5px;top:1185.73px;font-size:14.5px;line-height:14.5px;color:#111;font-weight:400;letter-spacing:0px;-webkit-text-stroke:0.2px #111;">3,91</div>
<div class="t" style="right:725px;top:1185.73px;font-size:14.5px;line-height:14.5px;color:#111;font-weight:400;letter-spacing:0px;-webkit-text-stroke:0.2px #111;">3,08</div>
<div class="t" style="right:611px;top:1185.73px;font-size:14.5px;line-height:14.5px;color:#111;font-weight:400;letter-spacing:0px;-webkit-text-stroke:0.2px #111;">10,73</div>
<div class="t" style="right:458.5px;top:1185.73px;font-size:14.5px;line-height:14.5px;color:#111;font-weight:400;letter-spacing:0px;-webkit-text-stroke:0.2px #111;">8,89</div>
<div class="t" style="right:314px;top:1185.73px;font-size:14.5px;line-height:14.5px;color:#111;font-weight:400;letter-spacing:0px;-webkit-text-stroke:0.2px #111;">5,81</div>
<div class="t" style="right:165px;top:1185.73px;font-size:14.5px;line-height:14.5px;color:#111;font-weight:400;letter-spacing:0px;-webkit-text-stroke:0.2px #111;">1,3</div>
<div class="t" style="right:43px;top:1185.73px;font-size:14.5px;line-height:14.5px;color:#111;font-weight:400;letter-spacing:0px;-webkit-text-stroke:0.2px #111;">1, 2, 3</div>
</div>
<div class="r" style="left:61px;top:357px;width:1225px;height:854px;border:1px solid #dadada;border-radius:3px;box-sizing:border-box;"></div>
<div class="r" style="left:51px;top:1221px;width:1245px;height:36px;background:#f0f0f0;border-radius:0 0 3px 3px;"></div>
<div class="t" style="left:66px;top:1233.55px;font-size:12.7px;line-height:12.7px;color:#707070;font-weight:700;letter-spacing:0px;transform:scaleX(0.89);transform-origin:left center;">UPDATED: 09/20/24 1:13 PM (15 MINUTES AGO)</div>
<svg class="r" style="left:10.60px;top:271.50px" width="54" height="54" viewBox="0 0 54 54"><circle cx="27.8" cy="27.8" r="22.8" fill="rgba(0,0,0,0.45)"/><circle cx="25" cy="25" r="22.8" fill="#ececec"/><circle cx="25" cy="25" r="21.8" fill="#8a1f52"/><path transform="translate(14.44,10.80)" d="M8.6 8.5 L8.6 26.8 L14.8 26.8 L14.8 0 L10.8 0 C9.9 2.6 6.8 5.6 2.3 7.1 L2.3 11.1 C4.9 10.5 7.1 9.7 8.6 8.5 Z" fill="#fff"/></svg>
<svg class="r" style="left:16.30px;top:600.90px" width="54" height="54" viewBox="0 0 54 54"><circle cx="27.8" cy="27.8" r="22.8" fill="rgba(0,0,0,0.45)"/><circle cx="25" cy="25" r="22.8" fill="#ececec"/><circle cx="25" cy="25" r="21.8" fill="#8a1f52"/><text x="14.44" y="38.00" font-family="Liberation Sans" font-weight="700" font-size="37.4" fill="#fff">2</text></svg>
<svg class="r" style="left:237.80px;top:312.40px" width="54" height="54" viewBox="0 0 54 54"><circle cx="27.8" cy="27.8" r="22.8" fill="rgba(0,0,0,0.45)"/><circle cx="25" cy="25" r="22.8" fill="#ececec"/><circle cx="25" cy="25" r="21.8" fill="#8a1f52"/><text x="14.44" y="38.00" font-family="Liberation Sans" font-weight="700" font-size="37.4" fill="#fff">3</text></svg>
<svg class="r" style="left:347.80px;top:312.40px" width="54" height="54" viewBox="0 0 54 54"><circle cx="27.8" cy="27.8" r="22.8" fill="rgba(0,0,0,0.45)"/><circle cx="25" cy="25" r="22.8" fill="#ececec"/><circle cx="25" cy="25" r="21.8" fill="#8a1f52"/><text x="14.44" y="38.00" font-family="Liberation Sans" font-weight="700" font-size="37.4" fill="#fff">4</text></svg>
<svg class="r" style="left:437.80px;top:312.40px" width="54" height="54" viewBox="0 0 54 54"><circle cx="27.8" cy="27.8" r="22.8" fill="rgba(0,0,0,0.45)"/><circle cx="25" cy="25" r="22.8" fill="#ececec"/><circle cx="25" cy="25" r="21.8" fill="#8a1f52"/><text x="14.44" y="38.00" font-family="Liberation Sans" font-weight="700" font-size="37.4" fill="#fff">5</text></svg>
<svg class="r" style="left:521.80px;top:312.40px" width="54" height="54" viewBox="0 0 54 54"><circle cx="27.8" cy="27.8" r="22.8" fill="rgba(0,0,0,0.45)"/><circle cx="25" cy="25" r="22.8" fill="#ececec"/><circle cx="25" cy="25" r="21.8" fill="#8a1f52"/><text x="14.44" y="38.00" font-family="Liberation Sans" font-weight="700" font-size="37.4" fill="#fff">6</text></svg>
<svg class="r" style="left:631.00px;top:312.40px" width="54" height="54" viewBox="0 0 54 54"><circle cx="27.8" cy="27.8" r="22.8" fill="rgba(0,0,0,0.45)"/><circle cx="25" cy="25" r="22.8" fill="#ececec"/><circle cx="25" cy="25" r="21.8" fill="#8a1f52"/><text x="14.44" y="38.00" font-family="Liberation Sans" font-weight="700" font-size="37.4" fill="#fff">7</text></svg>
<svg class="r" style="left:765.30px;top:312.40px" width="54" height="54" viewBox="0 0 54 54"><circle cx="27.8" cy="27.8" r="22.8" fill="rgba(0,0,0,0.45)"/><circle cx="25" cy="25" r="22.8" fill="#ececec"/><circle cx="25" cy="25" r="21.8" fill="#8a1f52"/><text x="14.44" y="38.00" font-family="Liberation Sans" font-weight="700" font-size="37.4" fill="#fff">8</text></svg>
<svg class="r" style="left:915.80px;top:312.40px" width="54" height="54" viewBox="0 0 54 54"><circle cx="27.8" cy="27.8" r="22.8" fill="rgba(0,0,0,0.45)"/><circle cx="25" cy="25" r="22.8" fill="#ececec"/><circle cx="25" cy="25" r="21.8" fill="#8a1f52"/><text x="14.44" y="38.00" font-family="Liberation Sans" font-weight="700" font-size="37.4" fill="#fff">9</text></svg>
<svg class="r" style="left:1065.60px;top:312.40px" width="54" height="54" viewBox="0 0 54 54"><circle cx="27.8" cy="27.8" r="22.8" fill="rgba(0,0,0,0.45)"/><circle cx="25" cy="25" r="22.8" fill="#ececec"/><circle cx="25" cy="25" r="21.8" fill="#8a1f52"/><path transform="translate(3.87,10.80)" d="M8.6 8.5 L8.6 26.8 L14.8 26.8 L14.8 0 L10.8 0 C9.9 2.6 6.8 5.6 2.3 7.1 L2.3 11.1 C4.9 10.5 7.1 9.7 8.6 8.5 Z" fill="#fff"/><text x="25.00" y="38.00" font-family="Liberation Sans" font-weight="700" font-size="37.4" fill="#fff">0</text></svg>
<svg class="r" style="left:1199.80px;top:312.40px" width="54" height="54" viewBox="0 0 54 54"><circle cx="27.8" cy="27.8" r="22.8" fill="rgba(0,0,0,0.45)"/><circle cx="25" cy="25" r="22.8" fill="#ececec"/><circle cx="25" cy="25" r="21.8" fill="#8a1f52"/><path transform="translate(3.87,10.80)" d="M8.6 8.5 L8.6 26.8 L14.8 26.8 L14.8 0 L10.8 0 C9.9 2.6 6.8 5.6 2.3 7.1 L2.3 11.1 C4.9 10.5 7.1 9.7 8.6 8.5 Z" fill="#fff"/><path transform="translate(25.00,10.80)" d="M8.6 8.5 L8.6 26.8 L14.8 26.8 L14.8 0 L10.8 0 C9.9 2.6 6.8 5.6 2.3 7.1 L2.3 11.1 C4.9 10.5 7.1 9.7 8.6 8.5 Z" fill="#fff"/></svg>
<svg class="r" style="left:1093.10px;top:166.60px" width="54" height="54" viewBox="0 0 54 54"><circle cx="27.8" cy="27.8" r="22.8" fill="rgba(0,0,0,0.45)"/><circle cx="25" cy="25" r="22.8" fill="#ececec"/><circle cx="25" cy="25" r="21.8" fill="#8a1f52"/><path transform="translate(3.87,10.80)" d="M8.6 8.5 L8.6 26.8 L14.8 26.8 L14.8 0 L10.8 0 C9.9 2.6 6.8 5.6 2.3 7.1 L2.3 11.1 C4.9 10.5 7.1 9.7 8.6 8.5 Z" fill="#fff"/><text x="25.00" y="38.00" font-family="Liberation Sans" font-weight="700" font-size="37.4" fill="#fff">2</text></svg>
<svg class="r" style="left:8.20px;top:1215.30px" width="54" height="54" viewBox="0 0 54 54"><circle cx="27.8" cy="27.8" r="22.8" fill="rgba(0,0,0,0.45)"/><circle cx="25" cy="25" r="22.8" fill="#ececec"/><circle cx="25" cy="25" r="21.8" fill="#8a1f52"/><path transform="translate(3.87,10.80)" d="M8.6 8.5 L8.6 26.8 L14.8 26.8 L14.8 0 L10.8 0 C9.9 2.6 6.8 5.6 2.3 7.1 L2.3 11.1 C4.9 10.5 7.1 9.7 8.6 8.5 Z" fill="#fff"/><text x="25.00" y="38.00" font-family="Liberation Sans" font-weight="700" font-size="37.4" fill="#fff">3</text></svg>
</body></html>
